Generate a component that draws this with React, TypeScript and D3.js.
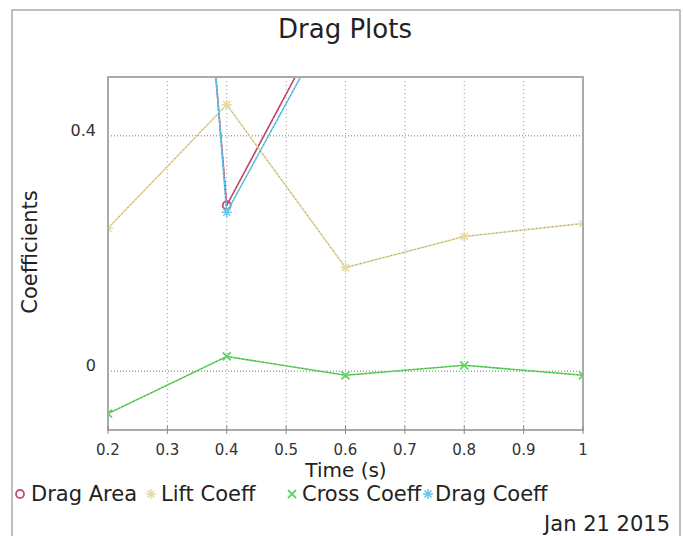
import * as d3 from "d3";

const times = [0.2, 0.4, 0.6, 0.8, 1.0];
const dragArea = [2.66, 0.282, 0.66, 0.95, 1.1];
const liftCoeff = [0.243, 0.453, 0.176, 0.229, 0.251];
const crossCoeff = [-0.072, 0.025, -0.007, 0.01, -0.007];
const dragCoeff = [2.79, 0.27, 0.64, 0.92, 1.05];

const xTicks = [0.2, 0.3, 0.4, 0.5, 0.6, 0.7, 0.8, 0.9, 1];
const yTicks = [0, 0.4];

const W = 683;
const H = 536;
const plot = { x1: 108, x2: 583, y1: 77, y2: 430 };
const font = "DejaVu Sans, sans-serif";

const x = d3.scaleLinear().domain([0.2, 1]).range([plot.x1, plot.x2]);
const y = d3.scaleLinear().domain([-0.1, 0.5]).range([plot.y2, plot.y1]);

const series = [
  { name: "Drag Area", values: dragArea, color: "#cc4a66", marker: "circle" },
  { name: "Lift Coeff", values: liftCoeff, color: "#e6dba0", marker: "star" },
  { name: "Cross Coeff", values: crossCoeff, color: "#5fd65f", marker: "cross" },
  { name: "Drag Coeff", values: dragCoeff, color: "#66c8ee", marker: "star" },
];

const Marker = ({ kind, cx, cy, color }: { kind: string; cx: number; cy: number; color: string }) => {
  if (kind === "circle")
    return <circle cx={cx} cy={cy} r={4} fill="none" stroke={color} strokeWidth={1.8} />;
  if (kind === "cross")
    return (
      <path d={`M${cx - 4},${cy - 4}L${cx + 4},${cy + 4}M${cx - 4},${cy + 4}L${cx + 4},${cy - 4}`}
        stroke={color} strokeWidth={1.8} />
    );
  return (
    <path
      d={`M${cx - 5},${cy}L${cx + 5},${cy}M${cx},${cy - 5}L${cx},${cy + 5}M${cx - 3.5},${cy - 3.5}L${cx + 3.5},${cy + 3.5}M${cx - 3.5},${cy + 3.5}L${cx + 3.5},${cy - 3.5}`}
      stroke={color} strokeWidth={1.5} />
  );
};

export default function App() {
  const line = d3.line<number>().x((_, i) => x(times[i])).y((d) => y(d));

  // legend entries: marker x, text x
  const legend = [
    { mx: 20, tx: 31 },
    { mx: 151, tx: 161 },
    { mx: 292, tx: 302 },
    { mx: 428, tx: 435 },
  ];

  return (
    <svg width={W} height={H} style={{ position: "absolute", left: 0, top: 0 }}>
      <rect x={0} y={0} width={W} height={H} fill="#fff" />
      <rect x={12} y={10} width={668} height={540} fill="none" stroke="#aaa" strokeWidth={1.5} />
      <text x={345} y={38} textAnchor="middle" fontFamily={font} fontSize={26} fill="#222">Drag Plots</text>

      <defs>
        <clipPath id="plotclip">
          <rect x={plot.x1} y={plot.y1} width={plot.x2 - plot.x1} height={plot.y2 - plot.y1} />
        </clipPath>
      </defs>

      {/* grid */}
      {xTicks.slice(1, -1).map((t) => (
        <line key={"gx" + t} x1={x(t)} x2={x(t)} y1={plot.y1} y2={plot.y2} stroke="#999" strokeWidth={1} strokeDasharray="1,3" />
      ))}
      {yTicks.map((t) => (
        <line key={"gy" + t} x1={plot.x1} x2={plot.x2} y1={y(t)} y2={y(t)} stroke="#777" strokeWidth={1} strokeDasharray="1,2" />
      ))}

      {/* series */}
      <g clipPath="url(#plotclip)">
        {series.map((s) => (
          <g key={s.name}>
            <path d={line(s.values) || ""} fill="none" stroke={s.color} strokeWidth={1.6} />
            <path d={line(s.values) || ""} fill="none" stroke="#333" strokeOpacity={0.45} strokeWidth={1} strokeDasharray="1,3" />
            {s.values.map((v, i) => (
              <Marker key={i} kind={s.marker} cx={x(times[i])} cy={y(v)} color={s.color} />
            ))}
          </g>
        ))}
      </g>

      {/* frame */}
      <rect x={plot.x1} y={plot.y1} width={plot.x2 - plot.x1} height={plot.y2 - plot.y1} fill="none" stroke="#aaa" strokeWidth={2} />

      {/* x axis ticks */}
      {xTicks.map((t) => (
        <g key={"xt" + t}>
          <line x1={x(t)} x2={x(t)} y1={plot.y2 - 4} y2={plot.y2 + 4} stroke="#888" />
          <text x={x(t)} y={455} textAnchor="middle" fontFamily={font} fontSize={15} fill="#333">{d3.format("")(t)}</text>
        </g>
      ))}
      {yTicks.map((t) => (
        <text key={"yt" + t} x={96} y={y(t)} textAnchor="end" fontFamily={font} fontSize={16} fill="#333">{d3.format("")(t)}</text>
      ))}

      <text x={346} y={477} textAnchor="middle" fontFamily={font} fontSize={20} fill="#222">Time (s)</text>
      <text transform={`translate(37,252) rotate(-90)`} textAnchor="middle" fontFamily={font} fontSize={21} fill="#222">Coefficients</text>

      {series.map((s, i) => (
        <g key={"lg" + s.name}>
          <Marker kind={s.marker} cx={legend[i].mx} cy={494} color={s.color} />
          <text x={legend[i].tx} y={501} fontFamily={font} fontSize={21} fill="#222">{s.name}</text>
        </g>
      ))}

      <text x={670} y={531} textAnchor="end" fontFamily={font} fontSize={21} fill="#222">Jan 21 2015</text>
    </svg>
  );
}
